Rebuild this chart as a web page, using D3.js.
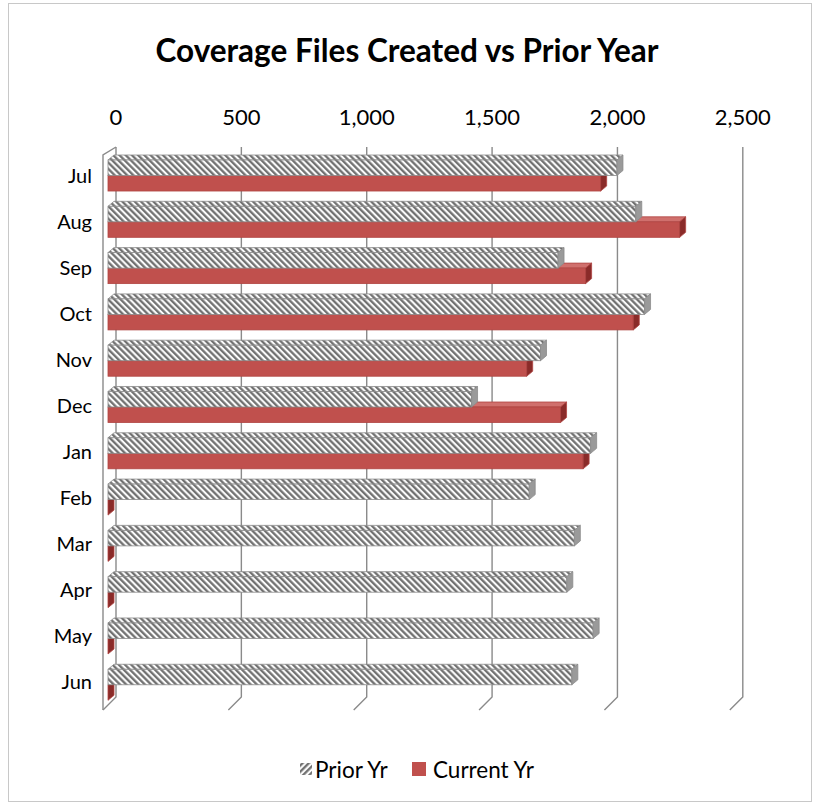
<!DOCTYPE html>
<html>
<head>
<meta charset="utf-8">
<script src="https://cdn.jsdelivr.net/npm/d3@7"></script>
<style>
  body { margin: 0; background: #fff; }
  text { font-family: Lato, "Open Sans", sans-serif; fill: #000; }
</style>
</head>
<body>
<div id="vis"></div>
<script>
// chart values
var months = ['Jul', 'Aug', 'Sep', 'Oct', 'Nov', 'Dec', 'Jan', 'Feb', 'Mar', 'Apr', 'May', 'Jun'];
var priorYr = [2030, 2105, 1795, 2140, 1725, 1450, 1925, 1680, 1860, 1830, 1935, 1850];
var currentYr = [1965, 2280, 1905, 2095, 1670, 1805, 1895, 0, 0, 0, 0, 0];
var seriesNames = ['Prior Yr', 'Current Yr'];
var tickValues = [0, 500, 1000, 1500, 2000, 2500];

var width = 817;
var height = 807;
var depth = { x: 6, y: 5 };      // bar 3d offset
var wall = { x: 8, y: 13 };      // back wall offset / floor depth

var svg = d3.select('#vis').append('svg')
  .attr('width', width)
  .attr('height', height);

var defs = svg.append('defs');

function hatch(id, angle) {
  var p = defs.append('pattern')
    .attr('id', id)
    .attr('patternUnits', 'userSpaceOnUse')
    .attr('width', 4.4)
    .attr('height', 4.4)
    .attr('patternTransform', 'rotate(' + angle + ')');
  p.append('rect').attr('width', 4.4).attr('height', 4.4).attr('fill', '#fbfbfb');
  p.append('line')
    .attr('x1', 1.2).attr('x2', 1.2)
    .attr('y1', 0).attr('y2', 4.4)
    .attr('stroke', '#6b6b6b')
    .attr('stroke-width', 2.2);
}
hatch('hatchBar', -45);
hatch('hatchKey', 45);

// outer frame
svg.append('rect')
  .attr('x', 8.5).attr('y', 3.5)
  .attr('width', 803).attr('height', 798)
  .attr('fill', 'none')
  .attr('stroke', '#c8c8c8');

svg.append('text')
  .attr('x', 407)
  .attr('y', 62)
  .attr('text-anchor', 'middle')
  .style('font-size', '31.5px')
  .style('font-weight', 'bold')
  .text('Coverage Files Created vs Prior Year');

var x = d3.scaleLinear()
  .domain([0, 2500])
  .range([108, 734.8]);

var y0 = d3.scaleBand()
  .domain(months)
  .range([160, 700.3])
  .paddingInner(0.33)
  .paddingOuter(0);

var y1 = d3.scaleBand()
  .domain(seriesNames)
  .range([0, y0.bandwidth()]);

var wallTop = 147;
var wallBottom = 697;

// back wall gridlines + floor diagonals
var grid = svg.append('g');
tickValues.forEach(function (v) {
  var xb = x(v) + wall.x;
  grid.append('path')
    .attr('d', 'M' + xb + ',' + wallTop + 'V' + wallBottom + 'l' + (-wall.y) + ',' + wall.y)
    .attr('fill', 'none')
    .attr('stroke', '#8a8a8a')
    .attr('stroke-width', 1.4);
});
// left side wall front edge
grid.append('path')
  .attr('d', 'M' + (x(0) + wall.x) + ',' + wallTop + 'L' + (x(0) - 5) + ',' + (wallTop + 8) +
    'V' + (wallBottom + wall.y))
  .attr('fill', 'none')
  .attr('stroke', '#8a8a8a')
  .attr('stroke-width', 1.4);

// top axis labels
svg.append('g')
  .selectAll('text')
  .data(tickValues)
  .enter().append('text')
  .attr('x', function (d) { return x(d) + wall.x; })
  .attr('y', 125)
  .attr('text-anchor', 'middle')
  .style('font-size', '22px')
  .text(function (d) { return d3.format(',')(d); });

// category labels
svg.append('g')
  .selectAll('text')
  .data(months)
  .enter().append('text')
  .attr('x', 92)
  .attr('y', function (d, i) { return y0(d) + 23 - i * 0.3; })
  .attr('text-anchor', 'end')
  .style('font-size', '20px')
  .text(function (d) { return d; });

var rows = [];
months.forEach(function (m, i) {
  rows.push({ month: m, series: 'Current Yr', value: currentYr[i] });
  rows.push({ month: m, series: 'Prior Yr', value: priorYr[i] });
});

var faces = {
  'Prior Yr': { front: 'url(#hatchBar)', top: 'url(#hatchBar)', side: '#9a9a9a', stroke: '#8c8c8c' },
  'Current Yr': { front: '#c0504d', top: '#d0706d', side: '#8a2b29', stroke: '#b04542' }
};

var bars = svg.append('g')
  .selectAll('g.bar')
  .data(rows)
  .enter().append('g')
  .attr('class', 'bar');

function topFace(d) {
  var x0 = x(0), x1 = x(d.value);
  var yt = y0(d.month) + y1(d.series);
  return 'M' + x0 + ',' + yt + 'L' + x1 + ',' + yt +
    'l' + depth.x + ',' + (-depth.y) + 'L' + (x0 + depth.x) + ',' + (yt - depth.y) + 'Z';
}
function sideFace(d) {
  var x1 = x(d.value);
  var yt = y0(d.month) + y1(d.series);
  var yb = yt + y1.bandwidth();
  return 'M' + x1 + ',' + yt + 'l' + depth.x + ',' + (-depth.y) +
    'L' + (x1 + depth.x) + ',' + (yb - depth.y) + 'L' + x1 + ',' + yb + 'Z';
}

bars.append('path')
  .attr('d', topFace)
  .attr('fill', function (d) { return faces[d.series].top; })
  .attr('stroke', function (d) { return faces[d.series].stroke; })
  .attr('stroke-width', 0.8);

bars.append('rect')
  .attr('x', x(0))
  .attr('y', function (d) { return y0(d.month) + y1(d.series); })
  .attr('width', function (d) { return x(d.value) - x(0); })
  .attr('height', y1.bandwidth())
  .attr('fill', function (d) { return faces[d.series].front; })
  .attr('stroke', function (d) { return faces[d.series].stroke; })
  .attr('stroke-width', 0.8);

bars.append('path')
  .attr('d', sideFace)
  .attr('fill', function (d) { return faces[d.series].side; })
  .attr('stroke', function (d) { return faces[d.series].stroke; })
  .attr('stroke-width', 0.8);

// legend
var legend = svg.append('g');
legend.append('rect')
  .attr('x', 300).attr('y', 763)
  .attr('width', 12).attr('height', 12)
  .attr('fill', 'url(#hatchKey)');
legend.append('text')
  .attr('x', 315).attr('y', 778)
  .style('font-size', '22.5px')
  .text(seriesNames[0]);
legend.append('rect')
  .attr('x', 412).attr('y', 762)
  .attr('width', 14).attr('height', 14)
  .attr('fill', '#c0504d');
legend.append('text')
  .attr('x', 433).attr('y', 778)
  .style('font-size', '22.5px')
  .text(seriesNames[1]);
</script>
</body>
</html>
